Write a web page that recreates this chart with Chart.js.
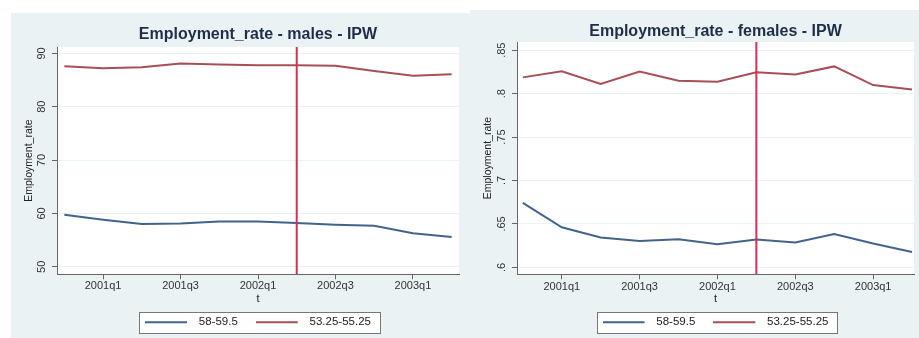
<!DOCTYPE html>
<html>
<head>
<meta charset="utf-8">
<script src="https://cdn.jsdelivr.net/npm/chart.js@4.4.1/dist/chart.umd.min.js"></script>
<style>
  body { margin: 0; background: #fff; width: 919px; height: 338px; position: relative; overflow: hidden; }
  canvas { position: absolute; background: #EAF2F3; }
  #males { left: 11px; top: 13px; }
  #females { left: 470px; top: 10px; }
</style>
</head>
<body>
<canvas id="males" width="459" height="325"></canvas>
<canvas id="females" width="449" height="328"></canvas>
<script>
// quarters on the x axis, 2000q4 .. 2003q2
const quarters = ['2000q4', '2001q1', '2001q2', '2001q3', '2001q4', '2002q1', '2002q2', '2002q3', '2002q4', '2003q1', '2003q2'];
const tickQuarters = ['2001q1', '2001q3', '2002q1', '2002q3', '2003q1'];
const reformQuarter = '2002q2';
const seriesNames = ['58-59.5', '53.25-55.25'];

// employment rate, males
const malesOlder = [59.75, 58.8, 58.0, 58.1, 58.5, 58.5, 58.2, 57.9, 57.7, 56.3, 55.6];
const malesYounger = [87.6, 87.2, 87.4, 88.1, 87.9, 87.8, 87.8, 87.7, 86.7, 85.8, 86.1];
const malesTicks = [50, 60, 70, 80, 90];
const malesTickLabels = ['50', '60', '70', '80', '90'];

// employment rate, females
const femalesOlder = [0.6742, 0.6461, 0.6344, 0.6305, 0.6324, 0.6266, 0.632, 0.6286, 0.6383, 0.6274, 0.6176];
const femalesYounger = [0.8187, 0.8258, 0.811, 0.8254, 0.8149, 0.8137, 0.8246, 0.8219, 0.8313, 0.8098, 0.8047];
const femalesTicks = [0.6, 0.65, 0.7, 0.75, 0.8, 0.85];
const femalesTickLabels = ['.6', '.65', '.7', '.75', '.8', '.85'];

const BLUE = '#42648C';
const RED = '#A84F55';
const VLINE = '#D42F55';
const AXIS = '#666';
const FONT = "'Liberation Sans', Arial, sans-serif";

// legend swatch: a 42px line, drawn from the left edge of the key
function swatch(color) {
  const c = document.createElement('canvas');
  c.width = 48;
  c.height = 4;
  const ctx = c.getContext('2d');
  ctx.strokeStyle = color;
  ctx.lineWidth = 2;
  ctx.beginPath();
  ctx.moveTo(0, 2);
  ctx.lineTo(42, 2);
  ctx.stroke();
  return c;
}

function toPoints(values) {
  return values.map((v, i) => ({ x: i, y: v }));
}

const panelFrame = {
  id: 'panelFrame',
  beforeDraw(chart) {
    const { ctx, chartArea } = chart;
    ctx.save();
    ctx.fillStyle = '#fff';
    ctx.fillRect(chartArea.left, chartArea.top, chartArea.right - chartArea.left, chartArea.bottom - chartArea.top);

    // box round the legend
    const boxes = chart.legend.legendHitBoxes;
    if (boxes && boxes.length) {
      const left = Math.round(boxes[0].left - 6);
      const last = boxes[boxes.length - 1];
      const right = Math.round(last.left + last.width + 9);
      const top = Math.round(boxes[0].top - 5);
      const bottom = Math.round(boxes[0].top + boxes[0].height + 5);
      ctx.fillStyle = '#fff';
      ctx.fillRect(left, top, right - left, bottom - top);
      ctx.strokeStyle = '#777';
      ctx.lineWidth = 1;
      ctx.strokeRect(left + 0.5, top + 0.5, right - left, bottom - top);
    }
    ctx.restore();
  },
  afterDatasetsDraw(chart) {
    const { ctx, chartArea, scales } = chart;
    const x = scales.x.getPixelForValue(quarters.indexOf(reformQuarter));
    ctx.save();
    ctx.strokeStyle = VLINE;
    ctx.lineWidth = 2;
    ctx.beginPath();
    ctx.moveTo(x, chartArea.top);
    ctx.lineTo(x, chartArea.bottom);
    ctx.stroke();
    ctx.restore();
  }
};

function drawPanel(id, p) {
  const ctx = document.getElementById(id).getContext('2d');
  return new Chart(ctx, {
    type: 'line',
    data: {
      datasets: [{
        label: seriesNames[0],
        data: toPoints(p.older),
        borderColor: BLUE,
        backgroundColor: BLUE,
        borderWidth: 2,
        pointRadius: 0,
        pointStyle: swatch(BLUE),
        tension: 0
      }, {
        label: seriesNames[1],
        data: toPoints(p.younger),
        borderColor: RED,
        backgroundColor: RED,
        borderWidth: 2,
        pointRadius: 0,
        pointStyle: swatch(RED),
        tension: 0
      }]
    },
    options: {
      responsive: false,
      animation: false,
      layout: { padding: { left: 0, right: p.padRight, top: 0, bottom: 0 } },
      plugins: {
        title: {
          display: true,
          text: p.title,
          fullSize: false,
          color: '#1C2E4A',
          font: { family: FONT, size: 16, weight: 'bold' },
          padding: { top: 11.8, bottom: p.titleGap }
        },
        legend: {
          position: 'bottom',
          fullSize: false,
          maxHeight: p.legendHeight,
          labels: {
            usePointStyle: true,
            pointStyleWidth: 48,
            padding: 18,
            color: '#222',
            font: { family: FONT, size: 11.5 }
          }
        },
        tooltip: { enabled: false }
      },
      scales: {
        x: {
          type: 'linear',
          min: p.xMin,
          max: p.xMax,
          afterBuildTicks: (scale) => {
            scale.ticks = tickQuarters.map(q => ({ value: quarters.indexOf(q) }));
          },
          afterFit: (scale) => { scale.height = 24.25; },
          ticks: {
            autoSkip: false,
            maxRotation: 0,
            padding: p.xTickPad,
            color: '#333',
            font: { family: FONT, size: 11 },
            callback: (v) => quarters[v]
          },
          grid: { drawOnChartArea: false, drawTicks: true, tickLength: 5, tickColor: AXIS },
          border: { display: true, color: AXIS, width: 1 },
          title: {
            display: true,
            text: 't',
            color: '#222',
            font: { family: FONT, size: 11 },
            padding: { top: 0, bottom: p.tGap }
          }
        },
        y: {
          min: p.yMin,
          max: p.yMax,
          afterBuildTicks: (scale) => {
            scale.ticks = p.yTicks.map(v => ({ value: v }));
          },
          afterFit: (scale) => { scale.width = p.yAxisWidth; },
          ticks: {
            minRotation: 90,
            maxRotation: 90,
            crossAlign: 'center',
            padding: p.yTickPad,
            color: '#333',
            font: { family: FONT, size: 11 },
            callback: (v, i) => p.yTickLabels[i]
          },
          grid: { color: '#EAF2F3', lineWidth: 1, drawTicks: true, tickLength: 5, tickColor: AXIS },
          border: { display: true, color: AXIS, width: 1 },
          title: {
            display: true,
            text: 'Employment_rate',
            color: '#222',
            font: { family: FONT, size: 10.5 },
            padding: { top: 12, bottom: 0 }
          }
        }
      }
    },
    plugins: [panelFrame]
  });
}

drawPanel('males', {
  title: 'Employment_rate - males - IPW',
  older: malesOlder,
  younger: malesYounger,
  yTicks: malesTicks,
  yTickLabels: malesTickLabels,
  yMin: 48.6,
  yMax: 91.2,
  xMin: -0.19,
  xMax: 10.19,
  padRight: 11,
  titleGap: 3,
  yAxisWidth: 46,
  yTickPad: 4,
  xTickPad: 0,
  tGap: -7.35,
  legendHeight: 40.75
});

drawPanel('females', {
  title: 'Employment_rate - females - IPW',
  older: femalesOlder,
  younger: femalesYounger,
  yTicks: femalesTicks,
  yTickLabels: femalesTickLabels,
  yMin: 0.5921,
  yMax: 0.8594,
  xMin: -0.15,
  xMax: 10.05,
  padRight: 5,
  titleGap: 1,
  yAxisWidth: 47,
  yTickPad: 2.5,
  xTickPad: 1.5,
  tGap: -7.35,
  legendHeight: 43.75
});
</script>
</body>
</html>
